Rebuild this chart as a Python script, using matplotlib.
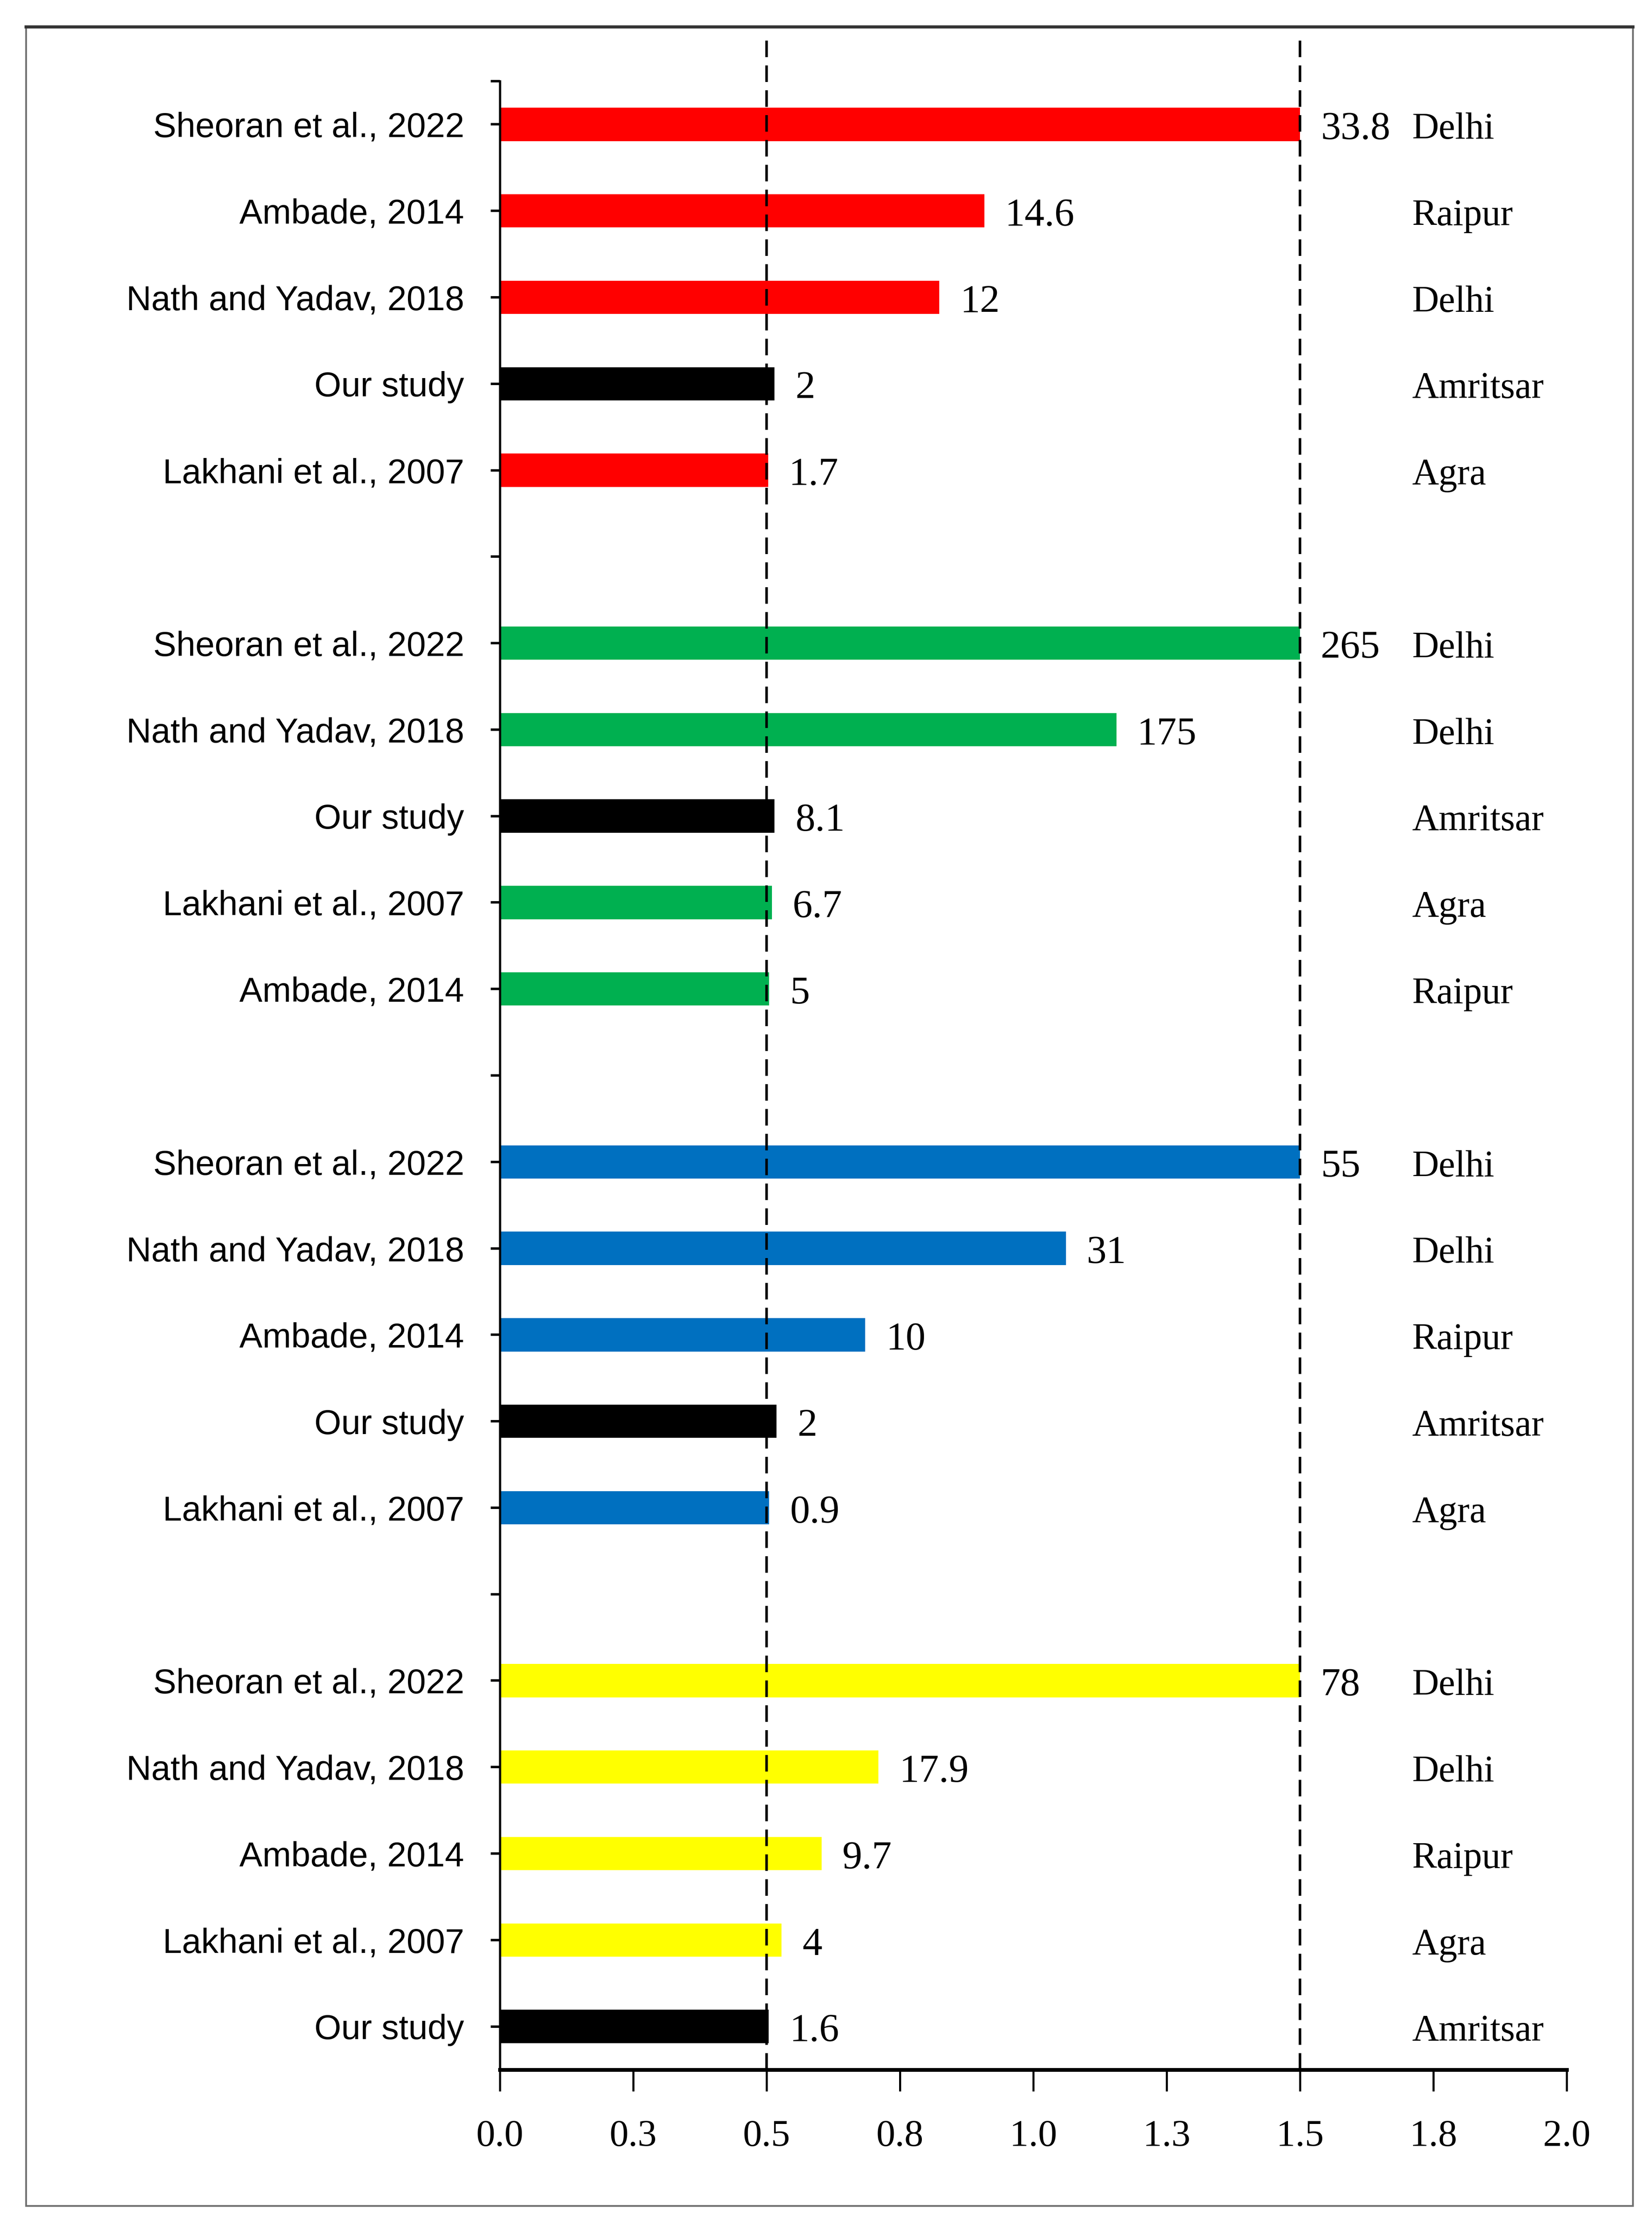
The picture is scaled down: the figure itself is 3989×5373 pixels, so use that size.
import matplotlib
matplotlib.use("Agg")
import matplotlib.pyplot as plt
from matplotlib import font_manager
from matplotlib.lines import Line2D
from matplotlib.patches import Rectangle

# ---- data (top to bottom inside each group) ----
red_studies = ["Sheoran et al., 2022", "Ambade, 2014", "Nath and Yadav, 2018", "Our study", "Lakhani et al., 2007"]
red_lengths = [1.5, 0.908, 0.824, 0.515, 0.503]
red_values = ["33.8", "14.6", "12", "2", "1.7"]
red_cities = ["Delhi", "Raipur", "Delhi", "Amritsar", "Agra"]

green_studies = ["Sheoran et al., 2022", "Nath and Yadav, 2018", "Our study", "Lakhani et al., 2007", "Ambade, 2014"]
green_lengths = [1.5, 1.156, 0.515, 0.510, 0.505]
green_values = ["265", "175", "8.1", "6.7", "5"]
green_cities = ["Delhi", "Delhi", "Amritsar", "Agra", "Raipur"]

blue_studies = ["Sheoran et al., 2022", "Nath and Yadav, 2018", "Ambade, 2014", "Our study", "Lakhani et al., 2007"]
blue_lengths = [1.5, 1.061, 0.685, 0.519, 0.505]
blue_values = ["55", "31", "10", "2", "0.9"]
blue_cities = ["Delhi", "Delhi", "Raipur", "Amritsar", "Agra"]

yellow_studies = ["Sheoran et al., 2022", "Nath and Yadav, 2018", "Ambade, 2014", "Lakhani et al., 2007", "Our study"]
yellow_lengths = [1.5, 0.710, 0.603, 0.528, 0.504]
yellow_values = ["78", "17.9", "9.7", "4", "1.6"]
yellow_cities = ["Delhi", "Delhi", "Raipur", "Agra", "Amritsar"]

x_ticks = [0.0, 0.25, 0.5, 0.75, 1.0, 1.25, 1.5, 1.75, 2.0]
x_tick_labels = ["0.0", "0.3", "0.5", "0.8", "1.0", "1.3", "1.5", "1.8", "2.0"]
ref_lines = [0.5, 1.5]

groups = [
    (red_studies, red_lengths, red_values, red_cities, "#FF0000"),
    (green_studies, green_lengths, green_values, green_cities, "#00B050"),
    (blue_studies, blue_lengths, blue_values, blue_cities, "#0070C0"),
    (yellow_studies, yellow_lengths, yellow_values, yellow_cities, "#FFFF00"),
]

# ---- fonts ----
installed = {f.name for f in font_manager.fontManager.ttflist}
if "Liberation Sans Narrow" in installed:
    label_font, label_size = "Liberation Sans Narrow", 23.5
else:
    label_font, label_size = "Liberation Sans", 20
serif = "Liberation Serif"

W, H, DPI = 3989, 5373, 300
fig = plt.figure(figsize=(W / DPI, H / DPI), dpi=DPI)
ax = fig.add_axes([1207 / W, 1 - 4998 / H, (3783 - 1207) / W, (4998 - 196) / H])

# ---- bars ----
ticks, tick_labels = [], []
pos = 0
for studies, lengths, values, cities, color in groups:
    for study, length, value, city in zip(studies, lengths, values, cities):
        c = "black" if study == "Our study" else color
        ax.barh(pos, length, height=0.385, color=c, zorder=2)
        ax.annotate(value, xy=(length, pos), xytext=(12, -3), textcoords="offset points",
                    ha="left", va="center", fontsize=23, family=serif, zorder=4)
        ax.annotate(city, xy=(1.71, pos), xytext=(0, -3), textcoords="offset points",
                    ha="left", va="center", fontsize=21.5, family=serif, zorder=4)
        ticks.append(pos)
        tick_labels.append(study)
        pos += 1
    if pos < 22:
        ticks.append(pos)
        tick_labels.append("")
        pos += 1

# dashed reference lines (they run a bit above the plot area)
for xv in ref_lines:
    ax.axvline(xv, ymin=0, ymax=1.0227, color="black", lw=1.5,
               linestyle=(0, (6.4, 3.2)), clip_on=False, zorder=3)

ax.set_xlim(0, 2.0)
ax.set_ylim(22.5, -0.5)
ax.set_xticks(x_ticks)
ax.set_xticklabels(x_tick_labels, fontsize=22, family=serif)
ax.set_yticks(ticks)
ax.set_yticklabels(tick_labels, fontsize=label_size, family=label_font)
ax.set_yticks([-0.5], minor=True)

ax.tick_params(axis="x", direction="out", length=12.5, width=1.2, pad=16.5)
ax.tick_params(axis="y", which="both", direction="out", length=5.2, width=1.4, pad=15.5)

for s in ["top", "right"]:
    ax.spines[s].set_visible(False)
ax.spines["left"].set_linewidth(1.3)
ax.spines["bottom"].set_linewidth(2.2)

# outer frame around the picture
x0, x1 = 63 / W, 3943 / W
y0, y1 = 1 - 5327 / H, 1 - 65 / H
fig.patches.append(Rectangle((x0, y0), x1 - x0, y1 - y0, transform=fig.transFigure,
                             fill=False, edgecolor="#6e6e6e", lw=1.0))
fig.lines.append(Line2D([x0, x1], [y1, y1], transform=fig.transFigure, color="#333333", lw=1.8))

fig.savefig("out.png", dpi=DPI, facecolor="white")
